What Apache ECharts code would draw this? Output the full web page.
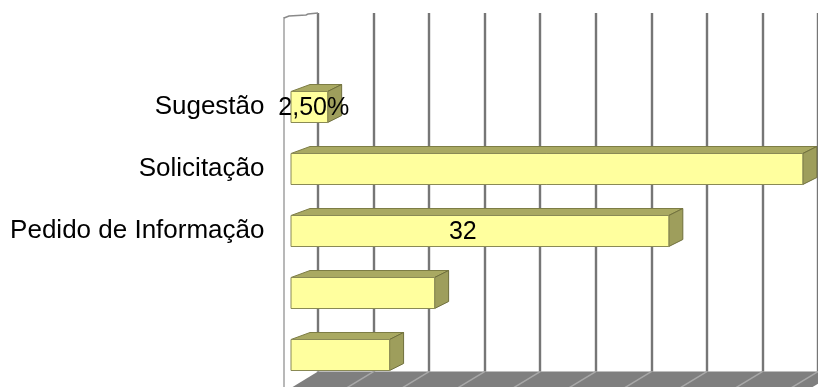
<!DOCTYPE html>
<html>
<head>
<meta charset="utf-8">
<script src="https://cdn.jsdelivr.net/npm/echarts@6/dist/echarts.min.js"></script>
<style>html,body{margin:0;padding:0;background:#fff}#c{width:818px;height:387px}</style>
</head>
<body>
<div id="c"></div>
<script>
const categories = ['Sugestão', 'Solicitação', 'Pedido de Informação', '', ' '];
const values = [2.5, 44.7, 32.8, 12.0, 8.0];
const valueLabels = ['2,50%', '', '32', '', ''];
const ticks = [0, 5, 10, 15, 20, 25, 30, 35, 40, 45];
const axisMax = 45;

const chart = echarts.init(document.getElementById('c'), null, {renderer: 'canvas'});
const FONT = '"Liberation Sans", Arial, sans-serif';

const barData = values.map((v, i) => [v, i]);
const tickData = ticks.map(t => [t, 0]);

const option = {
  animation: false,
  backgroundColor: '#fff',
  grid: [
    {left: 318, top: 13, width: 510, height: 358.6, containLabel: false},
    {left: 299.5, top: 76, width: 506.7, height: 310, containLabel: false}
  ],
  xAxis: [
    {gridIndex: 0, type: 'value', min: 0, max: axisMax, interval: 5,
     axisLine: {show: false}, axisTick: {show: false}, axisLabel: {show: false},
     splitLine: {show: true, lineStyle: {color: '#767676', width: 2.4}}},
    {gridIndex: 1, type: 'value', min: 0, max: axisMax, interval: 5, show: false,
     splitLine: {show: false}}
  ],
  yAxis: [
    {gridIndex: 0, type: 'value', min: 0, max: 1, show: false, splitLine: {show: false}},
    {gridIndex: 1, type: 'category', data: categories, inverse: true,
     axisLine: {show: false}, axisTick: {show: false}, splitLine: {show: false},
     axisLabel: {color: '#000', fontSize: 26, fontFamily: FONT, margin: 35}}
  ],
  series: [
    {
      type: 'custom', xAxisIndex: 0, yAxisIndex: 0, z: 1, silent: true,
      data: tickData,
      encode: {x: 0, y: 1},
      renderItem: function (params, api) {
        const t = api.value(0);
        const b = api.coord([t, 0]);
        const children = [];
        const fdx = -33, fdy = 20;
        if (params.dataIndex === 0) {
          const bEnd = api.coord([axisMax, 0]);
          const top = api.coord([0, 1]);
          children.push({type: 'polygon', shape: {points: [
            [b[0], b[1]], [bEnd[0] + 20, bEnd[1]], [bEnd[0] + 20 + fdx, bEnd[1] + fdy], [b[0] + fdx, b[1] + fdy]
          ]}, style: {fill: '#7f7f7f'}});
          children.push({type: 'polyline', shape: {points: [
            [top[0] + fdx - 1, top[1] + 4], [top[0] + fdx - 1, b[1] + fdy]
          ]}, style: {stroke: '#a0a0a0', lineWidth: 1.5, fill: null}});
          children.push({type: 'polyline', shape: {points: [
            [top[0] + fdx - 1, top[1] + 5], [top[0] + fdx + 4, top[1] + 3], [top[0] - 12, top[1] + 2], [top[0] - 10, top[1] + 1], [top[0], top[1]]
          ]}, style: {stroke: '#8a8a8a', lineWidth: 1.5, fill: null}});
        }
        if (t > 0) {
          children.push({type: 'line', shape: {x1: b[0], y1: b[1], x2: b[0] + fdx, y2: b[1] + fdy},
            style: {stroke: '#a8a8a8', lineWidth: 1.5}});
        }
        return {type: 'group', children: children};
      }
    },
    {
      type: 'custom', xAxisIndex: 1, yAxisIndex: 1, z: 5, silent: true,
      data: barData,
      encode: {x: 0, y: 1},
      renderItem: function (params, api) {
        const v = api.value(0);
        const idx = api.value(1);
        const p0 = api.coord([0, idx]);
        const p1 = api.coord([v, idx]);
        const band = api.size([0, 1])[1];
        const h = band * 0.5;
        const xL = p0[0] - 8.5;
        const xR = p1[0];
        const top = p0[1] - h / 2;
        const bot = p0[1] + h / 2;
        const dx = 14, dy = -7;
        const children = [
          {type: 'polygon', shape: {points: [[xL, top], [xL + 19, top + dy], [xR + dx, top + dy], [xR, top]]},
           style: {fill: '#a9a962', stroke: '#7d7d45', lineWidth: 1}},
          {type: 'polygon', shape: {points: [[xR, top], [xR + dx, top + dy], [xR + dx, bot + dy], [xR, bot]]},
           style: {fill: '#9e9e5c', stroke: '#6f6f3c', lineWidth: 1}},
          {type: 'rect', shape: {x: xL, y: top, width: xR - xL, height: h},
           style: {fill: '#ffff9e', stroke: '#8a8a55', lineWidth: 1}}
        ];
        const lab = valueLabels[params.dataIndex];
        if (lab) {
          const mid = (xL + xR + dx) / 2;
          children.push({type: 'text', x: mid - 38, y: p0[1] + 1,
            style: {text: lab, fill: '#000', font: '25px ' + FONT, align: 'left', verticalAlign: 'middle'}});
        }
        return {type: 'group', children: children};
      }
    }
  ]
};
chart.setOption(option);
</script>
</body>
</html>
